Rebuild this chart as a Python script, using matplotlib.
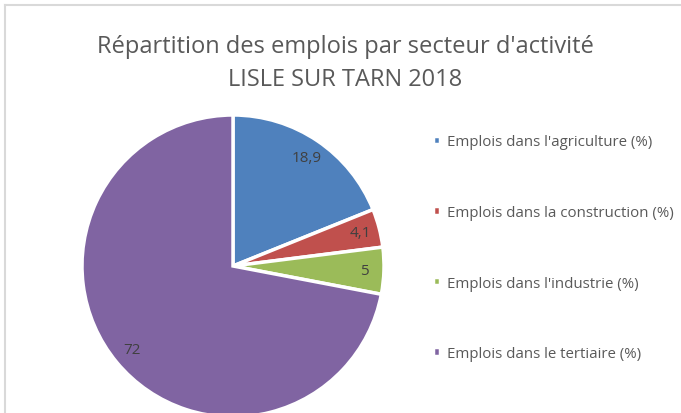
import matplotlib.pyplot as plt
from matplotlib.lines import Line2D

labels = ["Emplois dans l'agriculture (%)", "Emplois dans la construction (%)",
          "Emplois dans l'industrie (%)", "Emplois dans le tertiaire (%)"]
values = [18.9, 4.1, 5, 72]
value_labels = ["18,9", "4,1", "5", "72"]
colors = ['#4f81bd', '#c0504d', '#9bbb59', '#8064a2']

plt.rcParams['font.family'] = ['Open Sans', 'DejaVu Sans']

W, H = 681, 414
fig = plt.figure(figsize=(W / 100, H / 100), dpi=100)

# light frame (top and left edge visible)
fig.add_artist(Line2D([5 / W, 1], [1 - 6 / H, 1 - 6 / H], color='#d9d9d9', lw=1.5))
fig.add_artist(Line2D([5 / W, 5 / W], [0, 1 - 6 / H], color='#d9d9d9', lw=1.5))

fig.text(0.5 * (98 + 592) / W, 1 - 47 / H, "Répartition des emplois par secteur d'activité",
         ha='center', va='center', fontsize=17, color='#595959')
fig.text(0.5 * (98 + 592) / W, 1 - 80 / H, "LISLE SUR TARN 2018",
         ha='center', va='center', fontsize=17, color='#595959')

cx, cy, r = 233, 267, 151
ax = fig.add_axes([(cx - r) / W, (H - cy - r) / H, 2 * r / W, 2 * r / H])
it = iter(value_labels)
wedges, texts, autotexts = ax.pie(values, colors=colors, startangle=90, counterclock=False,
                                  autopct=lambda p: next(it), pctdistance=0.87,
                                  wedgeprops=dict(edgecolor='white', linewidth=2.5),
                                  textprops=dict(fontsize=11, color='#404040'))
ax.set_xlim(-1, 1)
ax.set_ylim(-1, 1)
ax.set_aspect('equal')
ax.axis('off')

fig.legend(wedges, labels, loc='upper left', bbox_to_anchor=(425 / W, 1 - 128 / H),
           frameon=False, fontsize=10.8, labelcolor='#595959', labelspacing=3.7,
           handlelength=0.5, handleheight=0.5, handletextpad=0.45, borderpad=0)

fig.savefig('out.png', dpi=100)
